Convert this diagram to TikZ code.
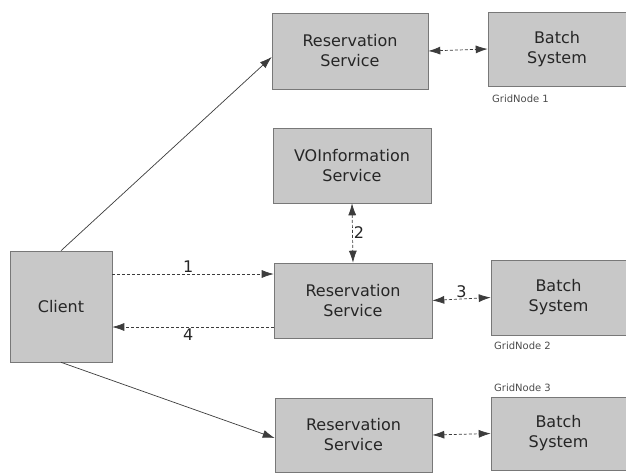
\documentclass[tikz,border=0pt]{standalone}
\usepackage{fontspec}
\setmainfont{DejaVu Sans}
\usetikzlibrary{arrows.meta}
\definecolor{boxfill}{RGB}{200,200,200}
\definecolor{boxline}{RGB}{120,120,120}
\definecolor{lineclr}{RGB}{60,60,60}
\tikzset{
  box/.style={rectangle, draw=boxline, line width=0.6pt, fill=boxfill, align=center,
    inner sep=0pt, font=\fontsize{16}{20}\selectfont, text=black!85},
  conn/.style={draw=lineclr, line width=0.7pt, -{Latex[length=12pt,width=8pt]}},
  dconn/.style={conn, dashed, dash pattern=on 3pt off 2pt},
  biconn/.style={dconn, {Latex[length=12pt,width=8pt]}-{Latex[length=12pt,width=8pt]}},
  num/.style={font=\fontsize{16}{19}\selectfont, text=black!85, inner sep=1pt},
  grid/.style={font=\fontsize{10}{12}\selectfont, text=black!70, anchor=west, inner sep=0pt}
}
\begin{document}
\begin{tikzpicture}[x=1pt,y=-1pt]
\useasboundingbox[fill=white] (0,0) rectangle (626,472);
\node[box, minimum width=102pt, minimum height=111pt] (client) at (61,306.5) {Client};
\node[box, minimum width=156pt, minimum height=76pt] (tres) at (350,51) {Reservation\\Service};
\node[box, minimum width=138pt, minimum height=74pt] (tbatch) at (557,49) {Batch\\System};
\node[box, minimum width=158pt, minimum height=75pt] (vo) at (352,165.5) {VOInformation\\Service};
\node[box, minimum width=158pt, minimum height=75pt] (mres) at (353,300.5) {Reservation\\Service};
\node[box, minimum width=135pt, minimum height=75pt] (mbatch) at (558.5,297.5) {Batch\\System};
\node[box, minimum width=157pt, minimum height=74pt] (bres) at (353.5,435) {Reservation\\Service};
\node[box, minimum width=135pt, minimum height=73pt] (bbatch) at (558.5,433.5) {Batch\\System};
\node[grid] (g1) at (492,99) {GridNode 1};
\node[grid] (g2) at (494,346) {GridNode 2};
\node[grid] (g3) at (494,388) {GridNode 3};
\draw[conn] (client.north) -- ([yshift=-6pt]tres.west);
\draw[conn] (client.south) -- ([yshift=-3pt]bres.west);
\draw[dconn] ([yshift=32.5pt]client.east) -- node[num, above, pos=0.47] (n1) {1} ([yshift=26.5pt]mres.west);
\draw[dconn] ([yshift=-26.5pt]mres.west) -- node[num, below, pos=0.53] (n4) {4} ([yshift=-20.5pt]client.east);
\draw[biconn] (vo.south) -- node[num, right] (n2) {2} (mres.north);
\draw[biconn] (mres.east) -- node[num, above] (n3) {3} (mbatch.west);
\draw[biconn] (tres.east) -- (tbatch.west);
\draw[biconn] (bres.east) -- (bbatch.west);
\end{tikzpicture}
\end{document}
